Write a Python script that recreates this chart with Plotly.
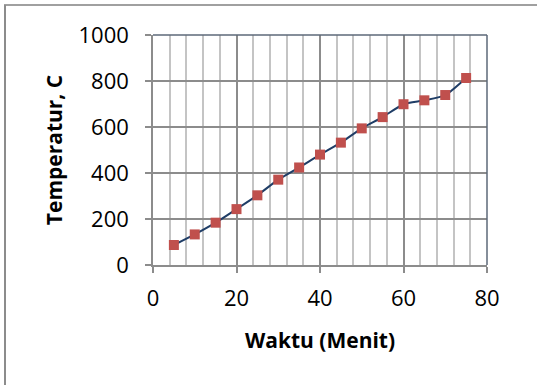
import plotly.graph_objects as go

waktu = [5, 10, 15, 20, 25, 30, 35, 40, 45, 50, 55, 60, 65, 70, 75]
temperatur = [87, 133, 184, 243, 303, 371, 424, 480, 532, 594, 643, 699, 716, 739, 813]

x_title = "Waktu (Menit)"
y_title = "Temperatur, C"

W, H = 537, 385
L, R, T, B = 153, 50, 35, 120

fig = go.Figure()
fig.add_trace(go.Scatter(
    x=waktu, y=temperatur, mode="lines+markers",
    line=dict(color="#1f3d66", width=2, shape="spline", smoothing=0.6),
    marker=dict(symbol="square", size=10, color="#c0504d",
                line=dict(color="#c0504d", width=0)),
    showlegend=False,
))

font = "Open Sans"
fig.update_layout(
    width=W, height=H,
    margin=dict(l=L, r=R, t=T, b=B, pad=0),
    paper_bgcolor="white", plot_bgcolor="white",
    font=dict(family=font, size=22, color="black"),
    xaxis=dict(
        range=[0, 80], dtick=20, tick0=0,
        showgrid=True, gridcolor="#8c8c8c", gridwidth=1.5,
        minor=dict(dtick=4, tick0=0, showgrid=True, gridcolor="#c4c4c4", gridwidth=1.5),
        showline=True, linecolor="#8c8c8c", linewidth=1.5,
        ticks="outside", ticklen=6, tickcolor="#8c8c8c", tickwidth=1.5,
        ticklabelstandoff=7,
        zeroline=False, fixedrange=True,
        tickfont=dict(family=font, size=22),
        title=dict(text="<b>" + x_title + "</b>", font=dict(family=font, size=21), standoff=22),
    ),
    yaxis=dict(
        range=[0, 1000], dtick=200, tick0=0,
        showgrid=True, gridcolor="#8c8c8c", gridwidth=1.5,
        showline=True, linecolor="#8c8c8c", linewidth=1.5,
        ticks="outside", ticklen=6, tickcolor="#8c8c8c", tickwidth=1.5,
        ticklabelstandoff=12,
        zeroline=False, fixedrange=True,
        tickfont=dict(family=font, size=22),
        title=dict(text="<b>" + y_title + "</b>", font=dict(family=font, size=21), standoff=10),
    ),
)

# plot area frame (top and right)
fig.add_shape(type="line", xref="paper", yref="paper", x0=0, x1=1, y0=1, y1=1,
              line=dict(color="#5c6878", width=1.5))
fig.add_shape(type="line", xref="paper", yref="paper", x0=1, x1=1, y0=0, y1=1,
              line=dict(color="#5c6878", width=1.5))

# outer chart border (top and left)
pw = W - L - R
ph = H - T - B
def px(x):
    return (x - L) / pw
def py(y):
    return (H - B - y) / ph
fig.add_shape(type="line", xref="paper", yref="paper", x0=px(4), x1=px(537), y0=py(5), y1=py(5),
              line=dict(color="#a0a0a0", width=2))
fig.add_shape(type="line", xref="paper", yref="paper", x0=px(5), x1=px(5), y0=py(5), y1=py(385),
              line=dict(color="#8c8c8c", width=2))

fig.write_html("out.html", config={"displayModeBar": False},
               post_script="document.body.style.margin='0';")
